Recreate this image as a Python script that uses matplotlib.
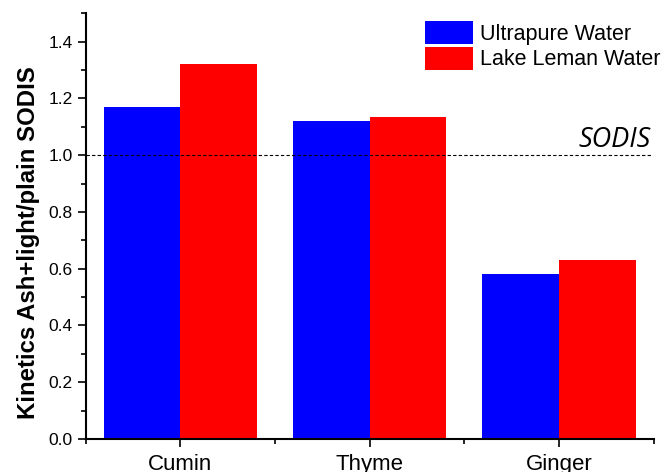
import numpy as np
import matplotlib.pyplot as plt
from matplotlib.ticker import MultipleLocator

# --- Data ---
spices = ["Cumin", "Thyme", "Ginger"]
ultrapure = [1.17, 1.12, 0.58]
lake_leman = [1.32, 1.135, 0.63]
series_labels = ["Ultrapure Water", "Lake Leman Water"]

plt.rcParams['font.family'] = ['Liberation Sans', 'DejaVu Sans']

fig = plt.figure(figsize=(6.65, 4.72), dpi=100)
ax = fig.add_axes([0.129, 0.070, 0.854, 0.902])

x = np.arange(len(spices))
w = 0.405
ax.bar(x - w / 2, ultrapure, w, color='#0000ff', label=series_labels[0])
ax.bar(x + w / 2, lake_leman, w, color='#ff0000', label=series_labels[1])

# reference line for plain SODIS
ax.axhline(1.0, xmin=0, xmax=0.997, color='black', ls=(0, (3, 2)), lw=0.8)
ax.text(2.485, 1.03, "SODIS", ha='right', va='baseline', fontsize=19.5,
        style='italic', family=['Open Sans', 'DejaVu Sans'])

ax.set_xlim(-0.5, 2.5)
ax.set_ylim(0, 1.5)
ax.set_xticks(x)
ax.set_xticklabels(spices, fontsize=16)
ax.xaxis.set_minor_locator(MultipleLocator(0.5))
ax.yaxis.set_major_locator(MultipleLocator(0.2))
ax.yaxis.set_minor_locator(MultipleLocator(0.1))
ax.yaxis.set_major_formatter(plt.FormatStrFormatter('%.1f'))
ax.tick_params(axis='y', labelsize=12.5)
ax.tick_params(which='major', direction='out', length=6, width=1.2)
ax.tick_params(which='minor', direction='out', length=3.5, width=1.2)
ax.tick_params(axis='x', which='major', pad=5)

for side in ['top', 'right']:
    ax.spines[side].set_visible(False)
for side in ['left', 'bottom']:
    ax.spines[side].set_linewidth(1.5)

ax.set_ylabel("Kinetics Ash+light/plain SODIS", fontsize=17.3, fontweight='bold')
ax.yaxis.set_label_coords(-0.08, 0.462)

ax.legend(loc='upper left', bbox_to_anchor=(425 / 665, 1 - 21 / 472),
          bbox_transform=fig.transFigure, frameon=False, fontsize=15.5,
          handlelength=2.25, handleheight=1.25, handletextpad=0.3, labelspacing=0.1,
          borderaxespad=0, borderpad=0)

fig.savefig('out.png', dpi=100)
